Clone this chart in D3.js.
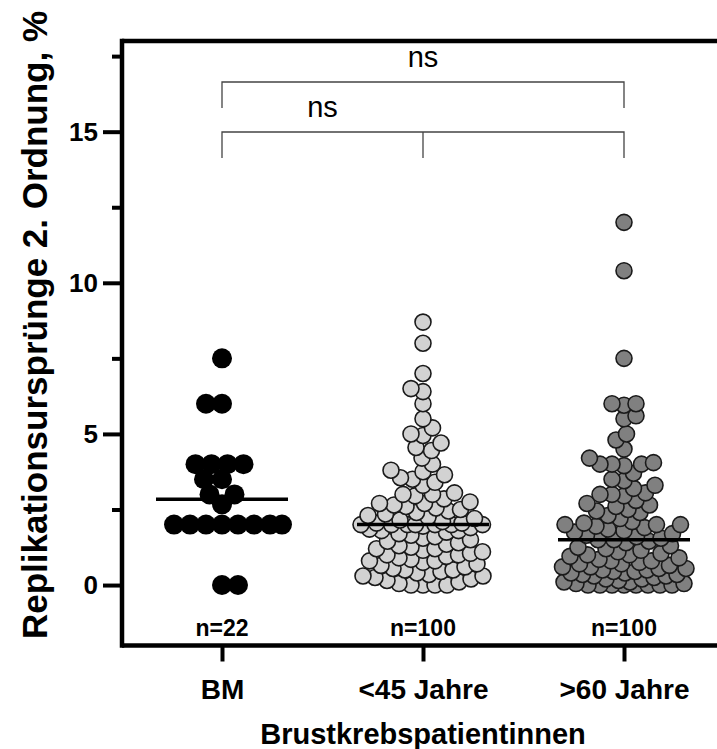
<!DOCTYPE html>
<html>
<head>
<meta charset="utf-8">
<title></title>
<script src="https://cdn.jsdelivr.net/npm/d3@7"></script>
<style>
  body { margin: 0; background: #fff; }
  text { font-family: "Liberation Sans", Arial, sans-serif; }
</style>
</head>
<body>
<script>
// groups and tick labels
var groups = ["BM", "<45 Jahre", ">60 Jahre"];
var countLabels = ["n=22", "n=100", "n=100"];
var majorTicks = [0, 5, 10, 15];
var minorTicks = [2.5, 7.5, 12.5, 17.5];

// values, % per patient
var bmValues = [7.5, 6, 6, 4, 4, 4, 4, 3.5, 3.5, 3, 3, 2.67, 2, 2, 2, 2, 2, 2, 2, 2, 0, 0];

var youngValues = [
  8.7, 8.0, 7.0, 6.5, 6.4, 6.0, 5.5, 5.2, 5.0, 4.95,
  4.7, 4.55, 4.45, 4.2, 4.0, 3.8, 3.75, 3.65, 3.55, 3.5,
  3.4, 3.3, 3.05, 3.0, 3.0, 2.95, 2.85, 2.75, 2.7, 2.7,
  2.65, 2.6, 2.55, 2.5, 2.45, 2.4, 2.35, 2.3, 2.25, 2.2,
  2.15, 2.1, 2.05, 2.05, 2.0, 2.0, 2.0, 2.0, 2.0, 2.0,
  2.0, 1.95, 1.9, 1.85, 1.8, 1.8, 1.75, 1.7, 1.65, 1.6,
  1.55, 1.5, 1.45, 1.4, 1.35, 1.3, 1.25, 1.2, 1.2, 1.15,
  1.1, 1.05, 1.0, 1.0, 0.95, 0.9, 0.85, 0.8, 0.8, 0.75,
  0.7, 0.65, 0.6, 0.55, 0.5, 0.5, 0.45, 0.4, 0.35, 0.3,
  0.3, 0.25, 0.2, 0.15, 0.1, 0.05, 0, 0, 0, 0
];

var oldValues = [
  12.0, 10.4, 7.5, 6.0, 6.0, 5.95, 5.6, 5.5, 5.0, 4.8,
  4.5, 4.2, 4.05, 4.0, 4.0, 4.0, 3.95, 3.7, 3.5, 3.45,
  3.3, 3.2, 3.05, 3.0, 3.0, 2.95, 2.8, 2.7, 2.65, 2.6,
  2.5, 2.45, 2.4, 2.3, 2.2, 2.1, 2.05, 2.0, 2.0, 2.0,
  1.95, 1.9, 1.85, 1.8, 1.75, 1.7, 1.65, 1.6, 1.55, 1.5,
  1.5, 1.45, 1.4, 1.3, 1.25, 1.2, 1.15, 1.1, 1.05, 1.0,
  1.0, 0.95, 0.9, 0.85, 0.8, 0.8, 0.75, 0.7, 0.7, 0.65,
  0.6, 0.6, 0.55, 0.55, 0.5, 0.5, 0.45, 0.45, 0.4, 0.4,
  0.35, 0.35, 0.3, 0.3, 0.25, 0.2, 0.2, 0.15, 0.1, 0.1,
  0.05, 0.05, 0, 0, 0, 0, 0, 0, 0, 0
];

var allValues = [bmValues, youngValues, oldValues];
var fills = ["#000000", "#d2d2d2", "#808080"];
var radius = [10, 8, 8];
var spacing = [16, 12, 12];
var maxSpread = [60, 62, 62];

var W = 717, H = 749;
var plotLeft = 122, plotTop = 41, plotBottom = 645.5;

var svg = d3.select("body").append("svg")
    .attr("width", W)
    .attr("height", H);

var y = d3.scaleLinear().domain([-2, 18]).range([plotBottom, plotTop]);
var x = d3.scalePoint().domain(groups).range([222, 624]);

// beeswarm with a width limit: take the free spot closest to the centre,
// and when the row is full take the least crowded spot
function swarm(values, d, maxW) {
  var pts = values.map(function(v) { return {v: v, y: y(v), dx: 0}; })
    .sort(function(a, b) { return a.v - b.v; });
  var placed = [];
  pts.forEach(function(p, k) {
    var side = k % 2 ? 1 : -1;
    var best = 0, bestDist = -1, found = false;
    for (var c = 0; c <= maxW && !found; c += 0.5) {
      var tries = c == 0 ? [0] : [side * c, -side * c];
      for (var t = 0; t < tries.length; t++) {
        var cx = tries[t], md = d;
        placed.forEach(function(q) {
          var ddx = q.dx - cx, ddy = q.y - p.y;
          var dist = Math.sqrt(ddx * ddx + ddy * ddy);
          if (dist < md) md = dist;
        });
        if (md >= d - 0.01) { best = cx; found = true; break; }
        if (md > bestDist + 0.5) { bestDist = md; best = cx; }
      }
    }
    p.dx = best;
    placed.push(p);
  });
  return placed;
}

// points
groups.forEach(function(g, gi) {
  var pts = swarm(allValues[gi], spacing[gi], maxSpread[gi]);
  svg.append("g").selectAll("circle")
    .data(pts)
    .enter().append("circle")
    .attr("cx", function(d) { return x(g) + d.dx; })
    .attr("cy", function(d) { return d.y; })
    .attr("r", radius[gi])
    .style("fill", fills[gi])
    .style("stroke", gi == 0 ? "none" : "#1a1a1a")
    .style("stroke-width", 1.6);

  // median line
  var med = d3.median(allValues[gi]);
  svg.append("line")
    .attr("x1", x(g) - 66).attr("x2", x(g) + 66)
    .attr("y1", y(med)).attr("y2", y(med))
    .style("stroke", "#000").style("stroke-width", 3.5);

  svg.append("text")
    .attr("x", x(g)).attr("y", plotBottom - 10)
    .attr("text-anchor", "middle")
    .style("font-size", "23px").style("font-weight", "bold")
    .text(countLabels[gi]);
});

// frame
svg.append("line").attr("x1", plotLeft).attr("x2", W).attr("y1", plotTop).attr("y2", plotTop)
  .style("stroke", "#000").style("stroke-width", 4.5);
svg.append("line").attr("x1", plotLeft).attr("x2", W).attr("y1", plotBottom).attr("y2", plotBottom)
  .style("stroke", "#000").style("stroke-width", 4.5);
svg.append("line").attr("x1", plotLeft).attr("x2", plotLeft).attr("y1", plotTop - 2.25).attr("y2", plotBottom + 2.25)
  .style("stroke", "#000").style("stroke-width", 4.5);

// y axis
var yAxis = svg.append("g")
  .attr("transform", "translate(" + plotLeft + ",0)")
  .call(d3.axisLeft(y).tickValues(majorTicks).tickSize(19).tickPadding(5));
yAxis.select(".domain").remove();
yAxis.selectAll(".tick line").style("stroke", "#000").style("stroke-width", 4);
yAxis.selectAll(".tick text")
  .style("font-family", "Liberation Sans, Arial, sans-serif")
  .style("font-size", "26px").style("font-weight", "bold").style("fill", "#000");

var yMinor = svg.append("g")
  .attr("transform", "translate(" + plotLeft + ",0)")
  .call(d3.axisLeft(y).tickValues(minorTicks).tickSize(10).tickFormat(""));
yMinor.select(".domain").remove();
yMinor.selectAll(".tick line").style("stroke", "#000").style("stroke-width", 4);

// x axis
var xAxis = svg.append("g")
  .attr("transform", "translate(0," + plotBottom + ")")
  .call(d3.axisBottom(x).tickSize(16).tickPadding(18));
xAxis.select(".domain").remove();
xAxis.selectAll(".tick line").style("stroke", "#000").style("stroke-width", 4);
xAxis.selectAll(".tick text")
  .style("font-family", "Liberation Sans, Arial, sans-serif")
  .style("font-size", "28px").style("font-weight", "bold").style("fill", "#000");

// axis titles
svg.append("text")
  .attr("transform", "translate(47,325) rotate(-90)")
  .attr("text-anchor", "middle")
  .style("font-size", "35px").style("font-weight", "bold")
  .text("Replikationsursprünge 2. Ordnung, %");

svg.append("text")
  .attr("x", 423).attr("y", 744)
  .attr("text-anchor", "middle")
  .style("font-size", "29px").style("font-weight", "bold")
  .text("Brustkrebspatientinnen");

// significance brackets
function bracket(yy, xs, drop) {
  svg.append("path")
    .attr("d", "M" + xs[0] + "," + (yy + drop) + "V" + yy + "H" + xs[xs.length - 1] + "V" + (yy + drop))
    .style("fill", "none").style("stroke", "#444").style("stroke-width", 1.3);
  xs.slice(1, -1).forEach(function(xx) {
    svg.append("line").attr("x1", xx).attr("x2", xx).attr("y1", yy).attr("y2", yy + drop)
      .style("stroke", "#444").style("stroke-width", 1.3);
  });
}
bracket(82, [x("BM"), x(">60 Jahre")], 26);
bracket(132, [x("BM"), x("<45 Jahre"), x(">60 Jahre")], 26);

svg.append("text").attr("x", x("<45 Jahre")).attr("y", 67)
  .attr("text-anchor", "middle").style("font-size", "29px").text("ns");
svg.append("text").attr("x", (x("BM") + x("<45 Jahre")) / 2).attr("y", 117)
  .attr("text-anchor", "middle").style("font-size", "29px").text("ns");
</script>
</body>
</html>
